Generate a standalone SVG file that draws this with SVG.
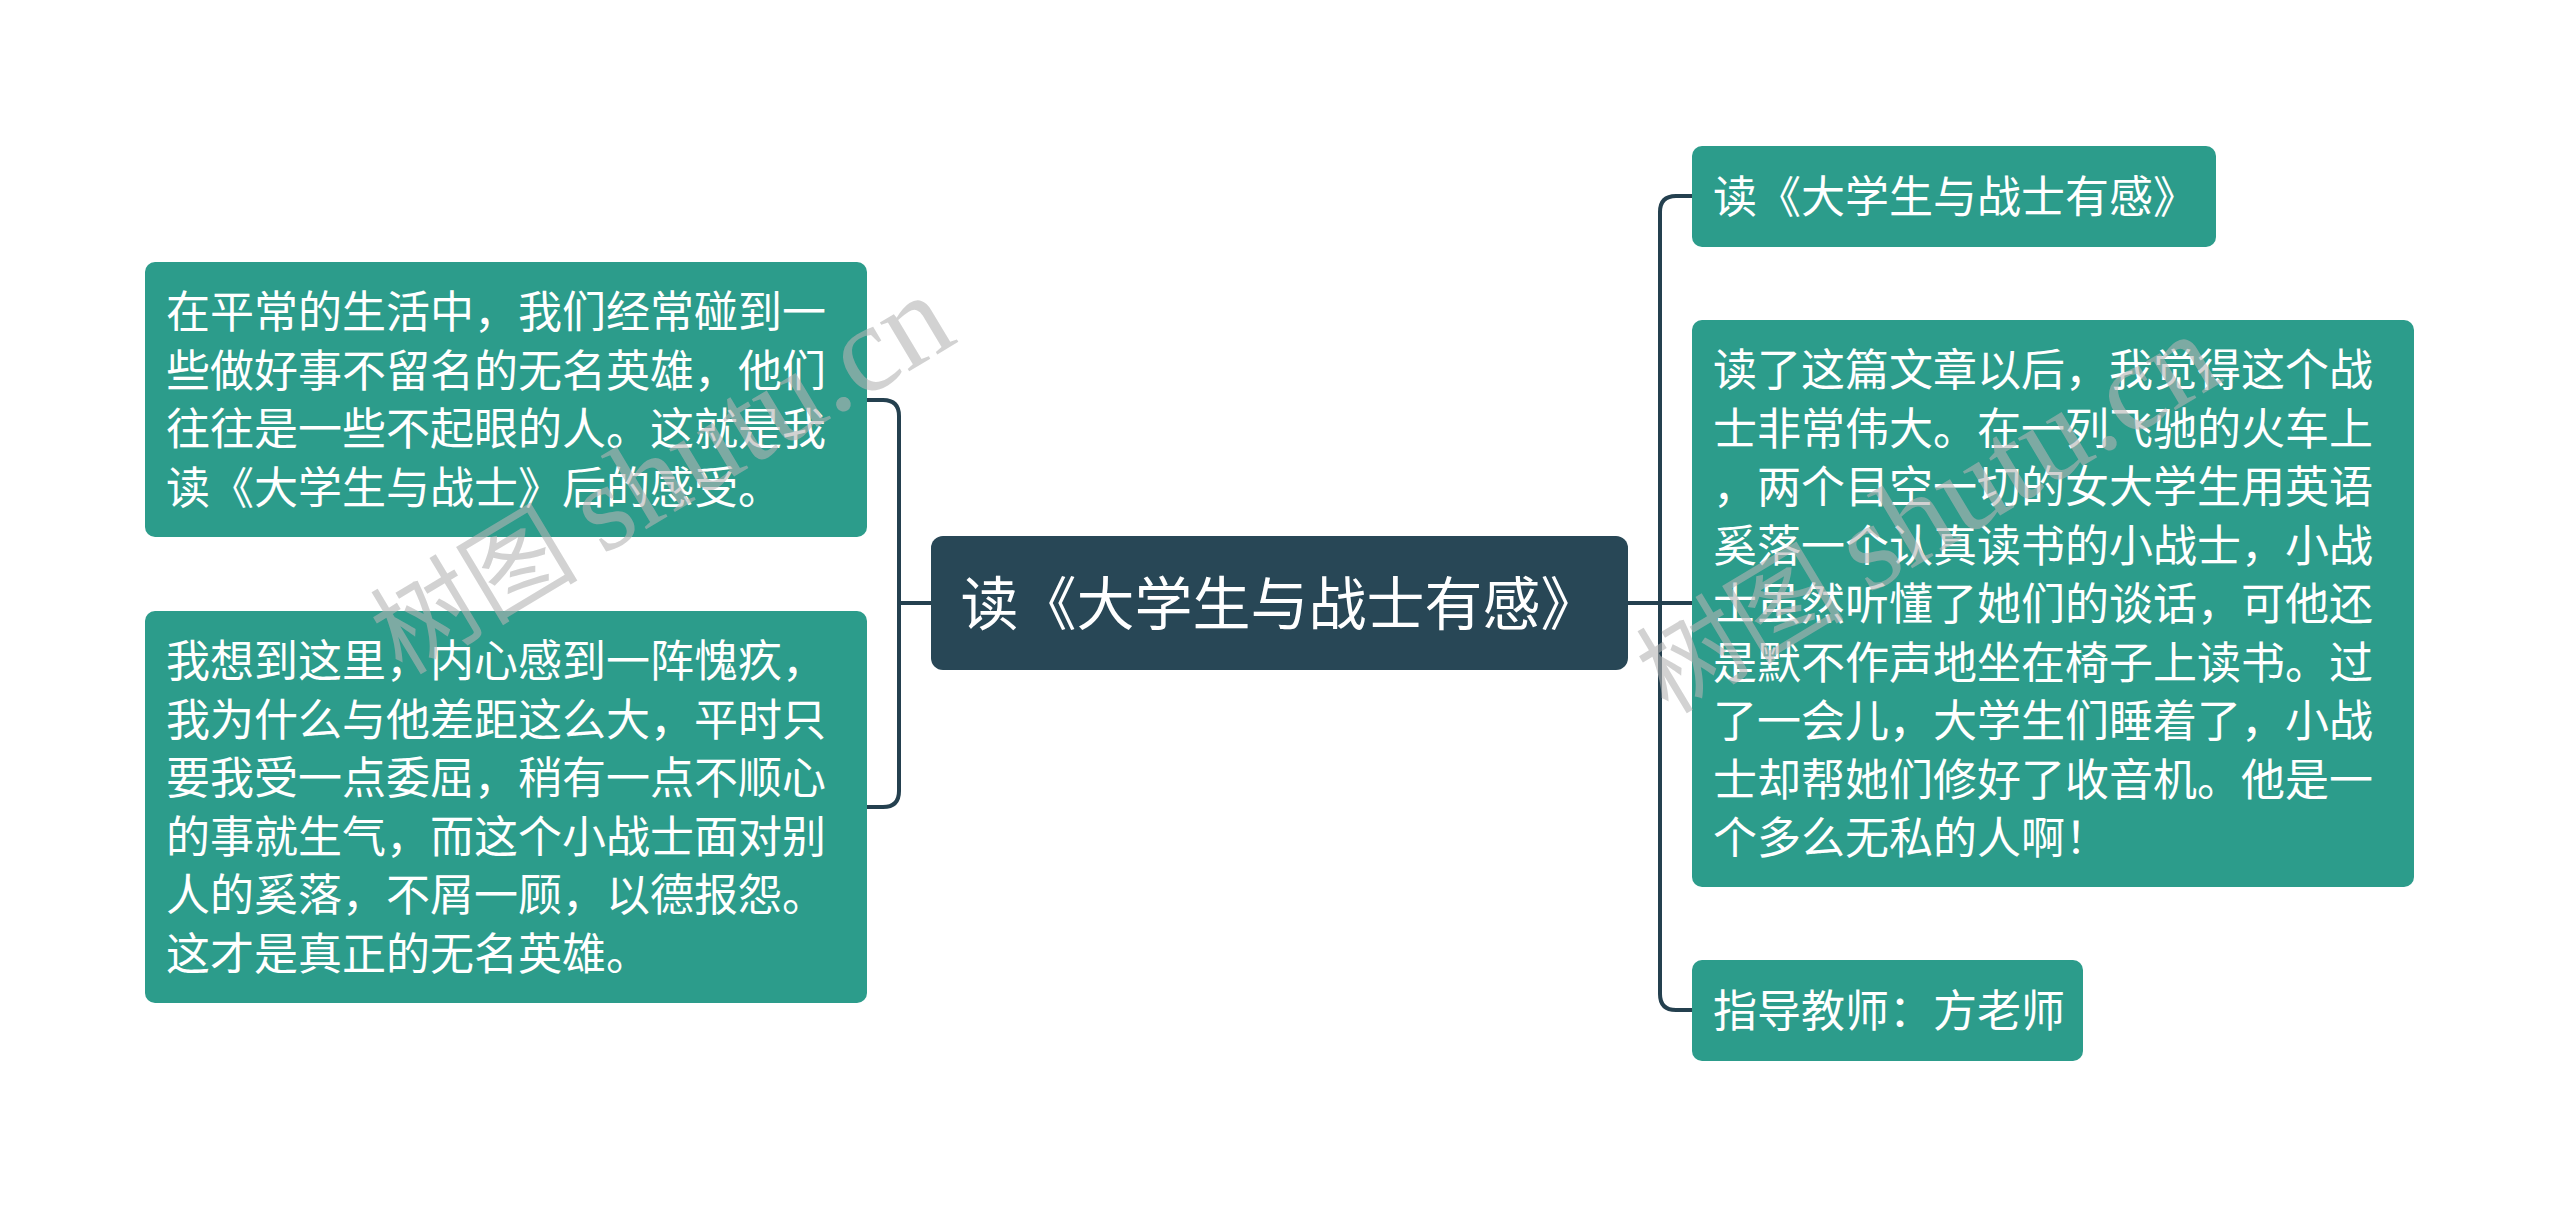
<svg xmlns="http://www.w3.org/2000/svg" width="2560" height="1207" viewBox="0 0 2560 1207">
<style>
.bg{fill:#ffffff}
.leaf{fill:#2c9c8b}
.root{fill:#284756}
.t{font-family:"Noto Sans CJK SC","Noto Sans",sans-serif;fill:#ffffff;font-size:44px}
.rt{font-family:"Noto Sans CJK SC","Noto Sans",sans-serif;fill:#ffffff;font-size:58px}
.conn{fill:none;stroke:#24404f;stroke-width:4}
.wm{font-family:"Liberation Serif","Noto Sans CJK SC",serif;font-size:104px;fill:#b4b4b4;fill-opacity:0.6}
.wl{font-size:124px}
</style>
<rect class="bg" x="0" y="0" width="2560" height="1207"/>
<g id="connectors">
<path class="conn" d="M931,603 H899"/>
<path class="conn" d="M867,400 H883 Q899,400 899,416 V791 Q899,807 883,807 H867"/>
<path class="conn" d="M1628,603 H1692"/>
<path class="conn" d="M1692,196 H1676 Q1660,196 1660,212 V994 Q1660,1010 1676,1010 H1692"/>
</g>
<g id="root">
<rect class="root" x="931" y="536" width="697" height="134" rx="12"/>
<text class="rt" x="1279.5" y="625" text-anchor="middle">读《大学生与战士有感》</text>
</g>
<g id="node-left-1">
<rect class="leaf" x="145" y="262" width="722" height="275" rx="10"/>
<text class="t" x="166"><tspan x="166" y="328">在平常的生活中，我们经常碰到一</tspan><tspan x="166" y="386.5">些做好事不留名的无名英雄，他们</tspan><tspan x="166" y="445">往往是一些不起眼的人。这就是我</tspan><tspan x="166" y="503.5">读《大学生与战士》后的感受。</tspan></text>
</g>
<g id="node-left-2">
<rect class="leaf" x="145" y="611" width="722" height="392" rx="10"/>
<text class="t" x="166"><tspan x="166" y="677">我想到这里，内心感到一阵愧疚，</tspan><tspan x="166" y="735.5">我为什么与他差距这么大，平时只</tspan><tspan x="166" y="794">要我受一点委屈，稍有一点不顺心</tspan><tspan x="166" y="852.5">的事就生气，而这个小战士面对别</tspan><tspan x="166" y="911">人的奚落，不屑一顾，以德报怨。</tspan><tspan x="166" y="969.5">这才是真正的无名英雄。</tspan></text>
</g>
<g id="node-right-1">
<rect class="leaf" x="1692" y="146" width="524" height="101" rx="10"/>
<text class="t" x="1713" y="213">读《大学生与战士有感》</text>
</g>
<g id="node-right-2">
<rect class="leaf" x="1692" y="320" width="722" height="567" rx="10"/>
<text class="t" x="1713"><tspan x="1713" y="386">读了这篇文章以后，我觉得这个战</tspan><tspan x="1713" y="444.5">士非常伟大。在一列飞驰的火车上</tspan><tspan x="1713" y="503">，两个目空一切的女大学生用英语</tspan><tspan x="1713" y="561.5">奚落一个认真读书的小战士，小战</tspan><tspan x="1713" y="620">士虽然听懂了她们的谈话，可他还</tspan><tspan x="1713" y="678.5">是默不作声地坐在椅子上读书。过</tspan><tspan x="1713" y="737">了一会儿，大学生们睡着了，小战</tspan><tspan x="1713" y="795.5">士却帮她们修好了收音机。他是一</tspan><tspan x="1713" y="854">个多么无私的人啊！</tspan></text>
</g>
<g id="node-right-3">
<rect class="leaf" x="1692" y="960" width="391" height="101" rx="10"/>
<text class="t" x="1713" y="1027">指导教师：方老师</text>
</g>
<g id="watermarks">
<text class="wm" transform="translate(402,676) rotate(-31)">树图 <tspan class="wl">shutu.cn</tspan></text>
<text class="wm" transform="translate(1668,715) rotate(-31)">树图 <tspan class="wl">shutu.cn</tspan></text>
</g>
</svg>
